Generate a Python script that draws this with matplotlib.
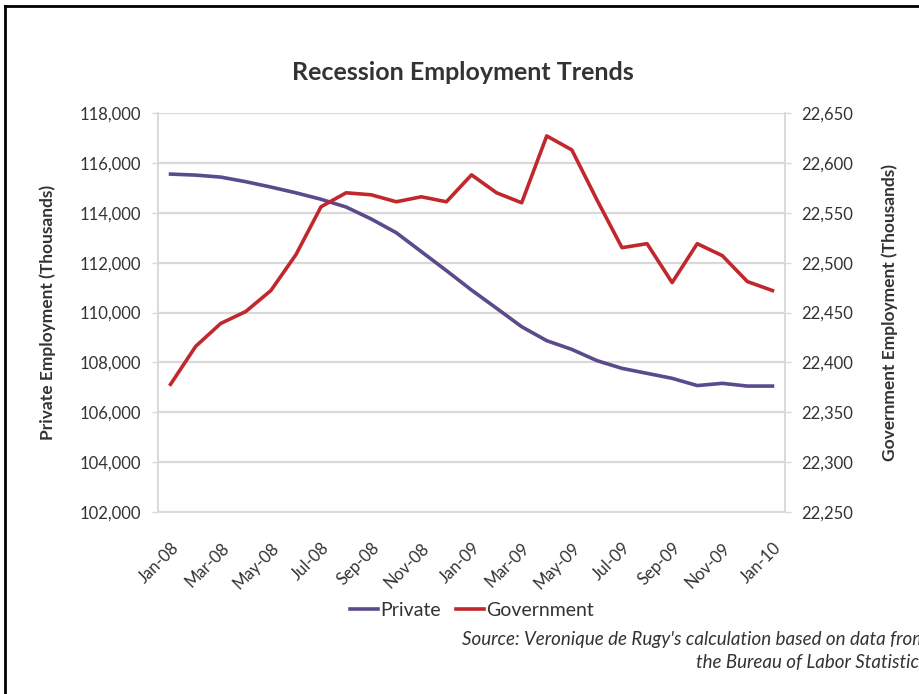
import numpy as np
import matplotlib
matplotlib.use("Agg")
from matplotlib import pyplot as plt
from matplotlib.lines import Line2D

plt.rcParams['font.family'] = ['Lato', 'DejaVu Sans']

# monthly data, Jan-08 .. Jan-10 (thousands)
months = ["Jan-08", "Feb-08", "Mar-08", "Apr-08", "May-08", "Jun-08", "Jul-08", "Aug-08",
          "Sep-08", "Oct-08", "Nov-08", "Dec-08", "Jan-09", "Feb-09", "Mar-09", "Apr-09",
          "May-09", "Jun-09", "Jul-09", "Aug-09", "Sep-09", "Oct-09", "Nov-09", "Dec-09", "Jan-10"]
private = [115550, 115510, 115430, 115245, 115030, 114800, 114540, 114230,
           113750, 113200, 112440, 111680, 110900, 110170, 109430, 108870,
           108520, 108070, 107760, 107560, 107360, 107070, 107160, 107050, 107050]
government = [22378, 22416, 22439, 22451, 22472, 22508, 22556, 22570,
              22568, 22561, 22566, 22561, 22588, 22570, 22560, 22627,
              22613, 22563, 22515, 22519, 22480, 22519, 22507, 22481, 22472]

left_ticks = np.arange(102000, 118001, 2000)
right_ticks = np.arange(22250, 22651, 50)

purple = "#5b4a8c"
red = "#c0282d"
grid_c = "#d9d9d9"
text_c = "#333333"

fig = plt.figure(figsize=(9.19, 6.94), dpi=100)
W, H = 919, 694
ax = fig.add_axes([158 / W, 1 - 512 / H, (785 - 158) / W, (512 - 113) / H])
ax2 = ax.twinx()

x = np.arange(len(months))
ax.plot(x, private, color=purple, lw=2.6, solid_joinstyle='round', zorder=3)
ax2.plot(x, government, color=red, lw=2.6, solid_joinstyle='round', zorder=3)

ax.set_xlim(-0.5, len(months) - 0.5)
ax.set_ylim(102000, 118000)
ax2.set_ylim(22250, 22650)

ax.set_yticks(left_ticks)
ax.set_yticklabels([f"{v:,}" for v in left_ticks])
ax2.set_yticks(right_ticks)
ax2.set_yticklabels([f"{v:,}" for v in right_ticks])

ax.set_xticks(x[::2])
ax.set_xticklabels(months[::2], rotation=45, ha='right', rotation_mode='anchor')

ax.yaxis.grid(True, color=grid_c, lw=1.6)
ax.set_axisbelow(True)

for a in (ax, ax2):
    for s in a.spines.values():
        s.set_color(grid_c)
        s.set_linewidth(1.2)
    a.spines['top'].set_visible(False)
    a.tick_params(colors=text_c, labelsize=12, length=4, width=1, pad=8)
    a.tick_params(axis='y', color=grid_c)
ax.tick_params(axis='x', length=0, pad=20, labelsize=12)

ax.set_ylabel("Private Employment (Thousands)", fontsize=12.5, fontweight='bold',
              color=text_c, labelpad=17)
ax2.set_ylabel("Government Employment (Thousands)", fontsize=12.5, fontweight='bold',
               color=text_c, labelpad=20)

fig.text(463 / W, 1 - 73 / H, "Recession Employment Trends", ha='center', va='center',
         fontsize=18, fontweight='bold', color=text_c)

handles = [Line2D([0], [0], color=purple, lw=2.6), Line2D([0], [0], color=red, lw=2.6)]
fig.legend(handles, ["Private", "Government"], loc='center', bbox_to_anchor=(472 / W, 1 - 610 / H),
           ncol=2, frameon=False, fontsize=14, handlelength=1.45, handletextpad=0.1,
           columnspacing=0.8, labelcolor=text_c)

# source note runs past the right edge, as in the original screenshot
src = "Source: Veronique de Rugy's calculation based on data from\nthe Bureau of Labor Statistics"
fig.text(927 / W, 1 - 651 / H, src, ha='right', va='center', fontsize=13.5, style='italic',
         color=text_c, linespacing=1.45)

# outer frame (left and top edges only)
fig.add_artist(Line2D([5 / W, 5 / W], [0, 1 - 6 / H], color='black', lw=2))
fig.add_artist(Line2D([5 / W, 1], [1 - 6 / H, 1 - 6 / H], color='black', lw=2))

fig.savefig("out.png", dpi=100)
